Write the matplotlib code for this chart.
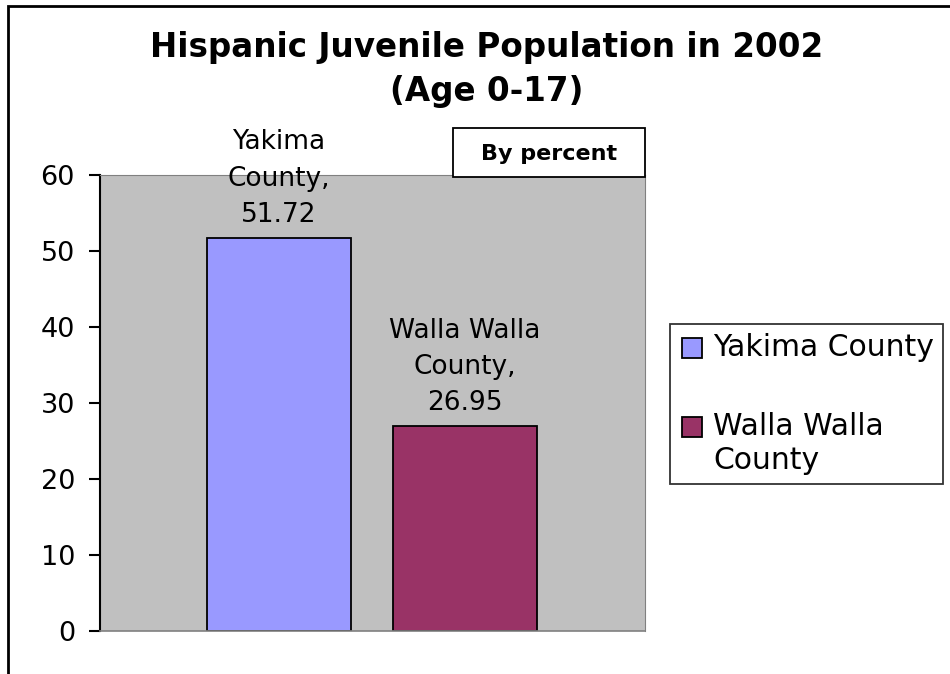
import matplotlib
matplotlib.use("Agg")
import matplotlib.pyplot as plt
from matplotlib.patches import Rectangle
from matplotlib.legend_handler import HandlerPatch

plt.rcParams['font.family'] = ['DejaVu Sans']

# data
counties = ['Yakima County', 'Walla Walla County']
bar_labels = ['Yakima\nCounty,\n51.72', 'Walla Walla\nCounty,\n26.95']
percent = [51.72, 26.95]
colors = ['#9999FF', '#993366']
yticks = [0, 10, 20, 30, 40, 50, 60]

W, H = 950, 674
fig = plt.figure(figsize=(W / 100, H / 100), dpi=100)

# outer chart frame (runs off the right and bottom edges)
fig.patches.append(Rectangle((8 / W, -0.05), 1.2, 1 - 6 / H + 0.05,
                             transform=fig.transFigure, fill=False,
                             edgecolor='black', linewidth=2))

ax = fig.add_axes([100 / W, 1 - 631 / H, 545 / W, 456 / H])
ax.set_facecolor('#C0C0C0')

xpos = [0, 1]
bars = []
for x, v, c, lab in zip(xpos, percent, colors, counties):
    b = ax.bar(x, v, width=0.774, color=c, edgecolor='black', linewidth=1.3, label=lab)
    bars.append(b)

for x, v, txt in zip(xpos, percent, bar_labels):
    ax.annotate(txt, (x, v), xytext=(0, 7), textcoords='offset points',
                ha='center', va='bottom', fontsize=19, linespacing=1.52)

ax.set_xlim(-0.962, 1.968)
ax.set_ylim(0, 60)
ax.set_yticks(yticks)
ax.set_xticks([])
ax.tick_params(axis='y', direction='out', length=8, width=1.5, labelsize=19.5, pad=10)
ax.spines['left'].set_linewidth(1.5)
ax.spines['bottom'].set_color('#808080')
ax.spines['right'].set_color('#808080')
ax.spines['top'].set_color('#808080')
ax.spines['bottom'].set_linewidth(1.2)

fig.text(487 / W, 1 - 48 / H, 'Hispanic Juvenile Population in 2002', ha='center', va='center',
         fontsize=23.5, fontweight='bold')
fig.text(487 / W, 1 - 92 / H, '(Age 0-17)', ha='center', va='center',
         fontsize=23.5, fontweight='bold')

# "By percent" box
fig.patches.append(Rectangle((453 / W, 1 - 177 / H), 192 / W, 49 / H,
                             transform=fig.transFigure, facecolor='white',
                             edgecolor='black', linewidth=1.3, zorder=5))
fig.text(549 / W, 1 - 154 / H, 'By percent', ha='center', va='center', fontsize=16,
         fontweight='bold', zorder=6)


def lowered_square(legend, orig_handle, xdescent, ydescent, width, height, fontsize):
    # nudge swatch down so it sits level with the first text line
    return Rectangle((-xdescent + 2.5, -ydescent - 3.6), width, height)


leg = fig.legend(handles=[b[0] for b in bars],
                 labels=['Yakima County', 'Walla Walla\nCounty'],
                 loc='upper left', bbox_to_anchor=(670 / W, 1 - 324 / H),
                 fontsize=21.5, frameon=True, fancybox=False, edgecolor='black',
                 handlelength=0.65, handleheight=0.65, handletextpad=0.5,
                 labelspacing=1.68, borderpad=0.3, borderaxespad=0,
                 handler_map={b[0]: HandlerPatch(patch_func=lowered_square) for b in bars})
leg.get_frame().set_linewidth(1.3)
for col in leg._legend_handle_box.get_children():
    for item in col.get_children():
        item.align = 'top'

fig.savefig('out.png', dpi=100)
